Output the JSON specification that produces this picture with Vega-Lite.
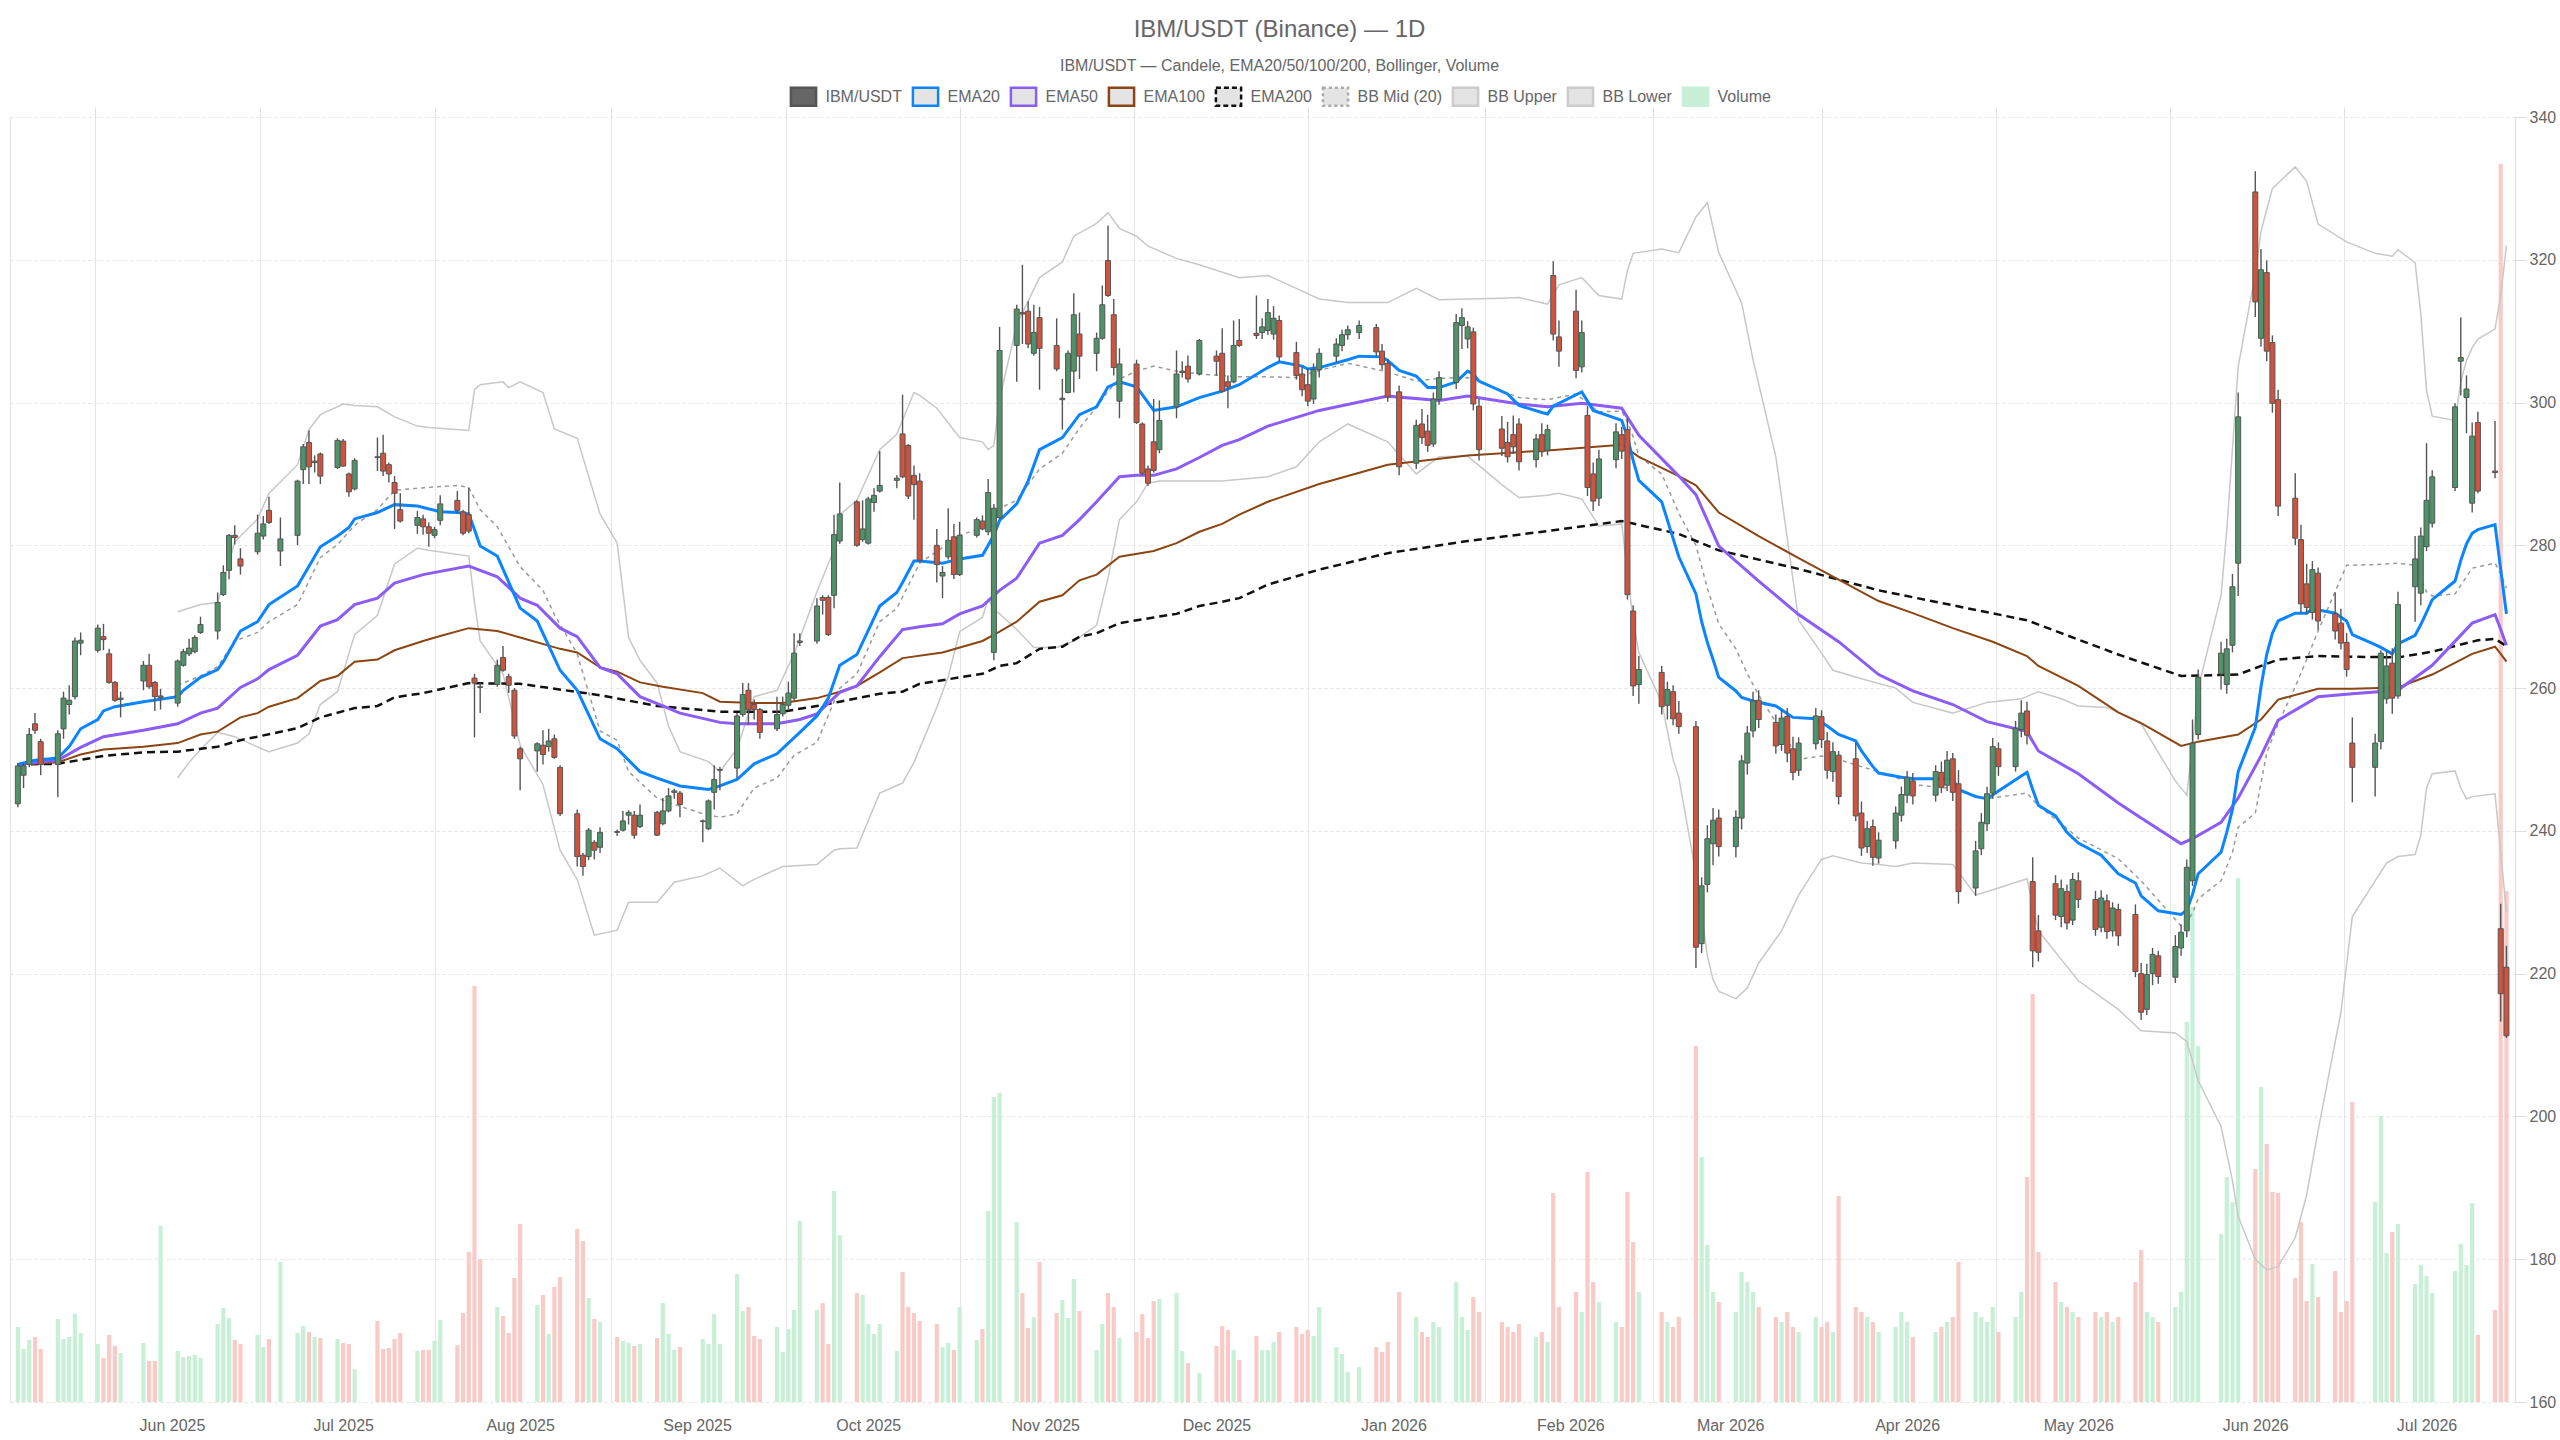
{
"$schema": "https://vega.github.io/schema/vega-lite/v6.json",
"width": 2505, "height": 1285,
"autosize": "none",
"padding": {"left": 10, "top": 117, "right": 45, "bottom": 38},
"background": "white",
"config": {"view": {"stroke": null}, "font": "Liberation Sans"},
"title": {"text": "IBM/USDT (Binance) — 1D", "subtitle": "IBM/USDT — Candele, EMA20/50/100/200, Bollinger, Volume", "fontSize": 24, "fontWeight": "normal", "color": "#666", "font": "Liberation Sans", "subtitleFont": "Liberation Sans", "subtitleFontSize": 16, "subtitleColor": "#666", "subtitlePadding": 16, "anchor": "middle", "frame": "group", "offset": 12, "dx": 17},
"datasets": {
"c": [
{"d":"2025-05-05","o":243.8,"h":249.5,"l":243.3,"c":249.1,"v":75},
{"d":"2025-05-06","o":247.8,"h":249.6,"l":246,"c":249.1,"v":53},
{"d":"2025-05-07","o":249.3,"h":254.4,"l":248.9,"c":253.5,"v":62},
{"d":"2025-05-08","o":255,"h":256.5,"l":253.6,"c":254.1,"v":65},
{"d":"2025-05-09","o":252.5,"h":252.9,"l":247.8,"c":249.3,"v":53},
{"d":"2025-05-12","o":249.3,"h":254.1,"l":244.7,"c":253.6,"v":83},
{"d":"2025-05-13","o":254.3,"h":259.5,"l":252.9,"c":258.6,"v":63},
{"d":"2025-05-14","o":257.7,"h":260.4,"l":256.3,"c":258.3,"v":65},
{"d":"2025-05-15","o":258.8,"h":267.1,"l":258.4,"c":266.6,"v":88},
{"d":"2025-05-16","o":266.3,"h":267.8,"l":264.6,"c":266.7,"v":69},
{"d":"2025-05-19","o":265.3,"h":268.9,"l":265,"c":268.4,"v":58},
{"d":"2025-05-20","o":267.2,"h":269,"l":265.3,"c":266.8,"v":44},
{"d":"2025-05-21","o":264.8,"h":265.5,"l":260.6,"c":260.8,"v":67},
{"d":"2025-05-22","o":260.8,"h":261,"l":258.1,"c":258.3,"v":56},
{"d":"2025-05-23","o":258.4,"h":259.5,"l":255.9,"c":258.6,"v":49},
{"d":"2025-05-27","o":261,"h":263.8,"l":259.7,"c":263.2,"v":59},
{"d":"2025-05-28","o":263.2,"h":264.8,"l":259.9,"c":260.2,"v":41},
{"d":"2025-05-29","o":260.8,"h":261,"l":256.8,"c":258.8,"v":41},
{"d":"2025-05-30","o":258.7,"h":259.9,"l":257,"c":258.9,"v":176},
{"d":"2025-06-02","o":257.9,"h":264,"l":257.4,"c":263.8,"v":51},
{"d":"2025-06-03","o":263.2,"h":265.5,"l":263,"c":265.1,"v":45},
{"d":"2025-06-04","o":264.8,"h":266.9,"l":264.5,"c":265.6,"v":46},
{"d":"2025-06-05","o":265.1,"h":267.4,"l":264.9,"c":267.1,"v":47},
{"d":"2025-06-06","o":267.8,"h":270,"l":267.6,"c":268.9,"v":44},
{"d":"2025-06-09","o":268,"h":273.4,"l":266.8,"c":272,"v":78},
{"d":"2025-06-10","o":273.1,"h":277.2,"l":272.9,"c":276.2,"v":94},
{"d":"2025-06-11","o":276.5,"h":281.6,"l":275.2,"c":281.4,"v":84},
{"d":"2025-06-12","o":281.4,"h":282.8,"l":280.1,"c":281.1,"v":62},
{"d":"2025-06-13","o":278.1,"h":279.6,"l":275.9,"c":277.1,"v":58},
{"d":"2025-06-16","o":279.1,"h":284.3,"l":278.7,"c":281.7,"v":67},
{"d":"2025-06-17","o":281.3,"h":284.1,"l":280.8,"c":283,"v":55},
{"d":"2025-06-18","o":284.9,"h":286.8,"l":283,"c":283.2,"v":63},
{"d":"2025-06-20","o":279.2,"h":283.9,"l":277.1,"c":280.9,"v":140},
{"d":"2025-06-23","o":281.4,"h":289.2,"l":280,"c":289,"v":69},
{"d":"2025-06-24","o":290.6,"h":294.2,"l":288.6,"c":293.8,"v":76},
{"d":"2025-06-25","o":294.4,"h":296.1,"l":288.6,"c":291,"v":70},
{"d":"2025-06-26","o":291.6,"h":292.6,"l":290.2,"c":291.8,"v":65},
{"d":"2025-06-27","o":292.8,"h":293,"l":288.6,"c":289.7,"v":64},
{"d":"2025-06-30","o":290.9,"h":295,"l":290.7,"c":294.7,"v":63},
{"d":"2025-07-01","o":294.6,"h":294.9,"l":291,"c":291.1,"v":59},
{"d":"2025-07-02","o":290,"h":290.2,"l":286.8,"c":287.5,"v":58},
{"d":"2025-07-03","o":287.9,"h":292.2,"l":287.7,"c":291.9,"v":33},
{"d":"2025-07-07","o":292.4,"h":295.1,"l":290.4,"c":292.3,"v":81},
{"d":"2025-07-08","o":292.9,"h":295.5,"l":289.7,"c":290.4,"v":53},
{"d":"2025-07-09","o":291.3,"h":291.6,"l":288.8,"c":290,"v":54},
{"d":"2025-07-10","o":288.8,"h":289.7,"l":282.3,"c":287.3,"v":63},
{"d":"2025-07-11","o":285,"h":287.3,"l":283.2,"c":283.4,"v":69},
{"d":"2025-07-14","o":282.8,"h":284.8,"l":281.6,"c":283.9,"v":51},
{"d":"2025-07-15","o":283.7,"h":284.3,"l":281.5,"c":282.6,"v":52},
{"d":"2025-07-16","o":282.6,"h":283.2,"l":279.8,"c":281.7,"v":52},
{"d":"2025-07-17","o":281.4,"h":282.6,"l":281,"c":282.2,"v":61},
{"d":"2025-07-18","o":283.5,"h":287,"l":282.8,"c":285.8,"v":82},
{"d":"2025-07-21","o":286.3,"h":287.6,"l":284.5,"c":284.9,"v":57},
{"d":"2025-07-22","o":284.7,"h":285,"l":281.4,"c":281.7,"v":89},
{"d":"2025-07-23","o":284.3,"h":288.1,"l":281.7,"c":282,"v":150},
{"d":"2025-07-24","o":261.4,"h":262,"l":253.1,"c":260.7,"v":416},
{"d":"2025-07-25","o":260.2,"h":260.7,"l":256.5,"c":260.1,"v":143},
{"d":"2025-07-28","o":260.5,"h":264,"l":260.2,"c":263.2,"v":95},
{"d":"2025-07-29","o":264.3,"h":265.9,"l":262.3,"c":262.5,"v":86},
{"d":"2025-07-30","o":261.6,"h":262,"l":259.3,"c":260.4,"v":69},
{"d":"2025-07-31","o":259.7,"h":260,"l":252.9,"c":253.3,"v":124},
{"d":"2025-08-01","o":251.5,"h":251.8,"l":245.7,"c":250.1,"v":178},
{"d":"2025-08-04","o":251.2,"h":252.4,"l":248.3,"c":252.2,"v":97},
{"d":"2025-08-05","o":252,"h":254.1,"l":249.3,"c":250.7,"v":107},
{"d":"2025-08-06","o":251.8,"h":254.3,"l":251.1,"c":252.6,"v":68},
{"d":"2025-08-07","o":252.9,"h":253.5,"l":250.1,"c":250.3,"v":115},
{"d":"2025-08-08","o":248.9,"h":249.2,"l":242.1,"c":242.4,"v":125},
{"d":"2025-08-11","o":242.4,"h":243,"l":235,"c":236.4,"v":173},
{"d":"2025-08-12","o":236.6,"h":236.9,"l":233.7,"c":235,"v":161},
{"d":"2025-08-13","o":236.4,"h":240.4,"l":235.9,"c":240.1,"v":104},
{"d":"2025-08-14","o":238.4,"h":238.7,"l":236,"c":237.3,"v":83},
{"d":"2025-08-15","o":237.7,"h":240.5,"l":236.9,"c":239.8,"v":80},
{"d":"2025-08-18","o":239.9,"h":240.2,"l":239.3,"c":239.8,"v":65},
{"d":"2025-08-19","o":240.1,"h":242.8,"l":239.9,"c":241.4,"v":61},
{"d":"2025-08-20","o":242.2,"h":242.9,"l":240.9,"c":242.6,"v":59},
{"d":"2025-08-21","o":242.2,"h":242.8,"l":238.9,"c":239.4,"v":56},
{"d":"2025-08-22","o":240.6,"h":243.7,"l":240.4,"c":242.2,"v":58},
{"d":"2025-08-25","o":242.6,"h":242.8,"l":239.3,"c":239.4,"v":64},
{"d":"2025-08-26","o":241,"h":244.6,"l":240.8,"c":242.8,"v":99},
{"d":"2025-08-27","o":242.8,"h":246,"l":242.6,"c":244.9,"v":68},
{"d":"2025-08-28","o":245.4,"h":245.9,"l":244.5,"c":245.6,"v":52},
{"d":"2025-08-29","o":245.3,"h":245.6,"l":241.9,"c":243.7,"v":55},
{"d":"2025-09-02","o":241.3,"h":241.6,"l":238.4,"c":241.4,"v":63},
{"d":"2025-09-03","o":240.3,"h":244.4,"l":240.1,"c":244.2,"v":58},
{"d":"2025-09-04","o":245.4,"h":249.2,"l":243,"c":247.2,"v":88},
{"d":"2025-09-05","o":248.5,"h":249,"l":245.7,"c":248.6,"v":58},
{"d":"2025-09-08","o":248.8,"h":256.5,"l":247.4,"c":256.1,"v":128},
{"d":"2025-09-09","o":256.3,"h":260.7,"l":256,"c":259.1,"v":91},
{"d":"2025-09-10","o":259.7,"h":260.7,"l":254.9,"c":257,"v":95},
{"d":"2025-09-11","o":257.7,"h":258.4,"l":255.6,"c":257,"v":66},
{"d":"2025-09-12","o":257,"h":257.2,"l":252.9,"c":253.8,"v":63},
{"d":"2025-09-15","o":254.3,"h":258.8,"l":254,"c":256.3,"v":75},
{"d":"2025-09-16","o":256.4,"h":258.8,"l":256,"c":257.7,"v":50},
{"d":"2025-09-17","o":257.6,"h":260.9,"l":257,"c":259.3,"v":73},
{"d":"2025-09-18","o":258.6,"h":267.7,"l":258.2,"c":264.9,"v":92},
{"d":"2025-09-19","o":266.4,"h":267.7,"l":265.9,"c":266.6,"v":181},
{"d":"2025-09-22","o":266.6,"h":272.6,"l":266.2,"c":271.5,"v":92},
{"d":"2025-09-23","o":272.7,"h":273,"l":270.3,"c":272.3,"v":99},
{"d":"2025-09-24","o":272.7,"h":273,"l":267.3,"c":267.5,"v":58},
{"d":"2025-09-25","o":273,"h":284.3,"l":271.2,"c":281.5,"v":211},
{"d":"2025-09-26","o":280.6,"h":288.8,"l":280.2,"c":284.4,"v":167},
{"d":"2025-09-29","o":286.1,"h":286.3,"l":279.8,"c":280,"v":109},
{"d":"2025-09-30","o":280.8,"h":286.3,"l":280.5,"c":282.3,"v":107},
{"d":"2025-10-01","o":280.3,"h":286.8,"l":280.1,"c":286.5,"v":78},
{"d":"2025-10-02","o":286,"h":288,"l":284.7,"c":287,"v":68},
{"d":"2025-10-03","o":287.6,"h":293.2,"l":287.4,"c":288.4,"v":78},
{"d":"2025-10-06","o":289.1,"h":289.8,"l":288,"c":289.4,"v":51},
{"d":"2025-10-07","o":295.6,"h":301.1,"l":289.4,"c":289.6,"v":130},
{"d":"2025-10-08","o":294,"h":294.2,"l":286.5,"c":286.9,"v":95},
{"d":"2025-10-09","o":289.8,"h":291.2,"l":283.6,"c":288.5,"v":89},
{"d":"2025-10-10","o":289,"h":290.1,"l":277.6,"c":277.9,"v":81},
{"d":"2025-10-13","o":280,"h":282.3,"l":274.8,"c":277.3,"v":78},
{"d":"2025-10-14","o":275.7,"h":277.1,"l":272.6,"c":276.2,"v":55},
{"d":"2025-10-15","o":278.4,"h":285.2,"l":278,"c":280.7,"v":59},
{"d":"2025-10-16","o":281.2,"h":283,"l":275.3,"c":275.9,"v":52},
{"d":"2025-10-17","o":275.9,"h":283.3,"l":275.7,"c":281.4,"v":95},
{"d":"2025-10-20","o":281.4,"h":283.9,"l":281.1,"c":283.6,"v":62},
{"d":"2025-10-21","o":283.4,"h":284.2,"l":282.1,"c":282.3,"v":73},
{"d":"2025-10-22","o":281.9,"h":289.3,"l":281.4,"c":287.4,"v":191},
{"d":"2025-10-23","o":265,"h":285.8,"l":263.9,"c":285.2,"v":305},
{"d":"2025-10-24","o":283.9,"h":310.6,"l":283.6,"c":307.3,"v":309},
{"d":"2025-10-27","o":308,"h":313.7,"l":302.9,"c":313.1,"v":180},
{"d":"2025-10-28","o":312.6,"h":319.3,"l":308.2,"c":312.4,"v":109},
{"d":"2025-10-29","o":312.8,"h":314.2,"l":307.6,"c":308.2,"v":74},
{"d":"2025-10-30","o":306.9,"h":313.7,"l":306.6,"c":309.8,"v":85},
{"d":"2025-10-31","o":311.9,"h":313.4,"l":301.8,"c":307.6,"v":140},
{"d":"2025-11-03","o":308,"h":311.8,"l":304.4,"c":304.7,"v":89},
{"d":"2025-11-04","o":300.4,"h":303.3,"l":296.2,"c":300.6,"v":102},
{"d":"2025-11-05","o":301.4,"h":307.3,"l":301.3,"c":306.9,"v":84},
{"d":"2025-11-06","o":304.4,"h":315.3,"l":301.4,"c":312.3,"v":123},
{"d":"2025-11-07","o":309.6,"h":312.6,"l":303.3,"c":306.5,"v":91},
{"d":"2025-11-10","o":306.9,"h":309.8,"l":304.4,"c":309,"v":52},
{"d":"2025-11-11","o":309,"h":316.4,"l":308.8,"c":313.7,"v":78},
{"d":"2025-11-12","o":319.9,"h":324.8,"l":314.8,"c":315,"v":109},
{"d":"2025-11-13","o":312.3,"h":314.5,"l":303.8,"c":304.9,"v":95},
{"d":"2025-11-14","o":300.2,"h":307.6,"l":297.8,"c":305.4,"v":64},
{"d":"2025-11-17","o":305.4,"h":306,"l":297,"c":297.2,"v":70},
{"d":"2025-11-18","o":297,"h":297.2,"l":289.8,"c":290.1,"v":88},
{"d":"2025-11-19","o":290.7,"h":291.2,"l":288.3,"c":288.7,"v":64},
{"d":"2025-11-20","o":294.5,"h":300.5,"l":290.2,"c":290.5,"v":101},
{"d":"2025-11-21","o":293.4,"h":300.3,"l":292.9,"c":297.5,"v":103},
{"d":"2025-11-24","o":299.4,"h":307.3,"l":297.8,"c":304,"v":109},
{"d":"2025-11-25","o":304.2,"h":305.8,"l":303.5,"c":304.4,"v":51},
{"d":"2025-11-26","o":305.1,"h":306.6,"l":302.8,"c":303.3,"v":39},
{"d":"2025-11-28","o":304,"h":308.9,"l":303.8,"c":308.7,"v":29},
{"d":"2025-12-01","o":306.5,"h":307.3,"l":303.8,"c":305.8,"v":56},
{"d":"2025-12-02","o":306.9,"h":310.4,"l":301.4,"c":301.6,"v":76},
{"d":"2025-12-03","o":302.9,"h":303.8,"l":299.2,"c":302.2,"v":72},
{"d":"2025-12-04","o":302.9,"h":311.5,"l":302.7,"c":308,"v":52},
{"d":"2025-12-05","o":308.7,"h":311.7,"l":307.8,"c":308,"v":42},
{"d":"2025-12-08","o":309.7,"h":315,"l":308.9,"c":309.4,"v":66},
{"d":"2025-12-09","o":309.8,"h":311.8,"l":308.9,"c":310.6,"v":52},
{"d":"2025-12-10","o":310.1,"h":314.5,"l":309.5,"c":312.6,"v":52},
{"d":"2025-12-11","o":309.6,"h":313.5,"l":308.8,"c":311.8,"v":60},
{"d":"2025-12-12","o":311.5,"h":312.2,"l":305.8,"c":306.4,"v":70},
{"d":"2025-12-15","o":307,"h":308.5,"l":303.2,"c":303.8,"v":75},
{"d":"2025-12-16","o":304,"h":305,"l":300.9,"c":301.8,"v":68},
{"d":"2025-12-17","o":302.5,"h":304.8,"l":299.5,"c":300.2,"v":72},
{"d":"2025-12-18","o":300.5,"h":305.5,"l":299.8,"c":304.6,"v":66},
{"d":"2025-12-19","o":304.6,"h":307.6,"l":303.5,"c":306.9,"v":95},
{"d":"2025-12-22","o":306.5,"h":309,"l":305.6,"c":308.2,"v":55},
{"d":"2025-12-23","o":308,"h":310.2,"l":307.2,"c":309.5,"v":48},
{"d":"2025-12-24","o":309.5,"h":310.8,"l":308.8,"c":310.2,"v":30},
{"d":"2025-12-26","o":309.8,"h":311.5,"l":308.9,"c":310.8,"v":35},
{"d":"2025-12-29","o":310.5,"h":311,"l":306.5,"c":307.1,"v":55},
{"d":"2025-12-30","o":307.2,"h":308.2,"l":304.6,"c":305.3,"v":50},
{"d":"2025-12-31","o":305.5,"h":306.1,"l":300.1,"c":300.8,"v":60},
{"d":"2026-01-02","o":301.5,"h":302.4,"l":289.8,"c":291,"v":110},
{"d":"2026-01-05","o":291.5,"h":297.6,"l":290.7,"c":296.8,"v":85},
{"d":"2026-01-06","o":297,"h":299.1,"l":294.2,"c":295.1,"v":70},
{"d":"2026-01-07","o":296,"h":298.3,"l":293.1,"c":294,"v":65},
{"d":"2026-01-08","o":294.2,"h":301.4,"l":293.8,"c":300.5,"v":80},
{"d":"2026-01-09","o":300.4,"h":304.4,"l":299.7,"c":303.5,"v":75},
{"d":"2026-01-12","o":302.8,"h":312.4,"l":301.9,"c":311.2,"v":120},
{"d":"2026-01-13","o":310.8,"h":313.2,"l":307.5,"c":311.9,"v":85},
{"d":"2026-01-14","o":308.9,"h":311.4,"l":307.6,"c":310.6,"v":72},
{"d":"2026-01-15","o":309.9,"h":310.5,"l":298.9,"c":299.8,"v":105},
{"d":"2026-01-16","o":299.5,"h":300.5,"l":291.9,"c":293.4,"v":90},
{"d":"2026-01-20","o":296.3,"h":298.1,"l":292.5,"c":293.6,"v":80},
{"d":"2026-01-21","o":294.4,"h":297.3,"l":291.6,"c":292.4,"v":75},
{"d":"2026-01-22","o":295.5,"h":298.2,"l":292.8,"c":293.8,"v":70},
{"d":"2026-01-23","o":297,"h":297.8,"l":290.5,"c":291.7,"v":78},
{"d":"2026-01-26","o":292,"h":295.6,"l":290.9,"c":294.9,"v":65},
{"d":"2026-01-27","o":295.5,"h":297.1,"l":292.4,"c":293.1,"v":70},
{"d":"2026-01-28","o":293.3,"h":296.9,"l":292.6,"c":296.2,"v":60},
{"d":"2026-01-29","o":317.8,"h":319.8,"l":308.7,"c":309.6,"v":209},
{"d":"2026-01-30","o":309.2,"h":311.5,"l":305,"c":307.2,"v":95},
{"d":"2026-02-02","o":312.8,"h":315.8,"l":303.4,"c":304.5,"v":110},
{"d":"2026-02-03","o":305,"h":311.5,"l":304.2,"c":309.8,"v":90},
{"d":"2026-02-04","o":298.2,"h":299.5,"l":286.9,"c":288.1,"v":230},
{"d":"2026-02-05","o":290,"h":291.6,"l":284.8,"c":286.2,"v":120},
{"d":"2026-02-06","o":286.6,"h":293.4,"l":285.5,"c":292.1,"v":100},
{"d":"2026-02-09","o":292,"h":297.1,"l":290.8,"c":295.9,"v":80},
{"d":"2026-02-10","o":295.5,"h":296.6,"l":292.1,"c":293.2,"v":75},
{"d":"2026-02-11","o":296.2,"h":297.8,"l":272.4,"c":273.1,"v":210},
{"d":"2026-02-12","o":270.8,"h":271.6,"l":258.9,"c":260.3,"v":160},
{"d":"2026-02-13","o":260.5,"h":264.5,"l":257.8,"c":262.6,"v":110},
{"d":"2026-02-17","o":262.2,"h":263.1,"l":256.3,"c":257.4,"v":90},
{"d":"2026-02-18","o":257.6,"h":260.9,"l":255.6,"c":259.8,"v":80},
{"d":"2026-02-19","o":259.5,"h":260.4,"l":254.8,"c":255.7,"v":75},
{"d":"2026-02-20","o":256.5,"h":258.2,"l":253.6,"c":254.6,"v":85},
{"d":"2026-02-23","o":254.6,"h":255.4,"l":220.8,"c":223.7,"v":356},
{"d":"2026-02-24","o":224.2,"h":233.5,"l":222.9,"c":232.3,"v":245},
{"d":"2026-02-25","o":232.5,"h":240.8,"l":231.4,"c":238.9,"v":157},
{"d":"2026-02-26","o":238.2,"h":243.2,"l":235.2,"c":241.5,"v":110},
{"d":"2026-02-27","o":241.8,"h":243,"l":236.4,"c":237.8,"v":100},
{"d":"2026-03-02","o":237.8,"h":242.9,"l":236.3,"c":241.9,"v":90},
{"d":"2026-03-03","o":241.8,"h":250.6,"l":240.2,"c":249.8,"v":130},
{"d":"2026-03-04","o":249.5,"h":254.7,"l":247.9,"c":253.7,"v":120},
{"d":"2026-03-05","o":254,"h":259.5,"l":253.1,"c":258.2,"v":110},
{"d":"2026-03-06","o":258.3,"h":259.7,"l":254.4,"c":255.6,"v":95},
{"d":"2026-03-09","o":255.2,"h":256.3,"l":250.8,"c":251.9,"v":85},
{"d":"2026-03-10","o":252.1,"h":256.9,"l":251.2,"c":255.8,"v":80},
{"d":"2026-03-11","o":256,"h":257.2,"l":249.6,"c":250.9,"v":90},
{"d":"2026-03-12","o":251.5,"h":253.2,"l":247.1,"c":248.2,"v":75},
{"d":"2026-03-13","o":248.5,"h":253.1,"l":247.7,"c":252.3,"v":70},
{"d":"2026-03-16","o":252.2,"h":257.2,"l":251.4,"c":256.1,"v":85},
{"d":"2026-03-17","o":256,"h":256.9,"l":251.6,"c":252.8,"v":75},
{"d":"2026-03-18","o":252.6,"h":253.8,"l":247.3,"c":248.5,"v":80},
{"d":"2026-03-19","o":248.3,"h":252.4,"l":246.9,"c":251.1,"v":70},
{"d":"2026-03-20","o":250.6,"h":251.2,"l":243.7,"c":244.8,"v":206},
{"d":"2026-03-23","o":250.1,"h":252.3,"l":241.4,"c":242.1,"v":95},
{"d":"2026-03-24","o":242.5,"h":244.1,"l":236.5,"c":237.6,"v":90},
{"d":"2026-03-25","o":237.8,"h":241.4,"l":236.9,"c":240.3,"v":85},
{"d":"2026-03-26","o":240.6,"h":241.6,"l":235.1,"c":236.3,"v":80},
{"d":"2026-03-27","o":236.2,"h":239.8,"l":235.4,"c":238.7,"v":70},
{"d":"2026-03-30","o":238.6,"h":243.4,"l":237.5,"c":242.5,"v":75},
{"d":"2026-03-31","o":242.2,"h":246.2,"l":241.3,"c":245.1,"v":90},
{"d":"2026-04-01","o":245,"h":248.4,"l":243.9,"c":247.5,"v":80},
{"d":"2026-04-02","o":247,"h":248.1,"l":243.7,"c":244.9,"v":65},
{"d":"2026-04-06","o":245,"h":249.2,"l":244.1,"c":248.3,"v":70},
{"d":"2026-04-07","o":248.2,"h":249.7,"l":245.3,"c":246.1,"v":75},
{"d":"2026-04-08","o":246.4,"h":251.2,"l":245.6,"c":249.9,"v":80},
{"d":"2026-04-09","o":250.1,"h":250.9,"l":244.2,"c":245.4,"v":85},
{"d":"2026-04-10","o":246.6,"h":248.5,"l":229.8,"c":231.5,"v":140},
{"d":"2026-04-13","o":232,"h":238.6,"l":230.9,"c":237.2,"v":90},
{"d":"2026-04-14","o":237.5,"h":242.5,"l":236.6,"c":241.2,"v":85},
{"d":"2026-04-15","o":241,"h":246.2,"l":240,"c":245.2,"v":80},
{"d":"2026-04-16","o":245.3,"h":253,"l":244.5,"c":251.8,"v":95},
{"d":"2026-04-17","o":251.5,"h":252.4,"l":247.7,"c":249,"v":70},
{"d":"2026-04-20","o":249,"h":255.4,"l":248.3,"c":254.4,"v":85},
{"d":"2026-04-21","o":254.2,"h":258.3,"l":253.1,"c":256.5,"v":110},
{"d":"2026-04-22","o":256.8,"h":258.1,"l":252.1,"c":253.4,"v":225},
{"d":"2026-04-23","o":232.9,"h":236.3,"l":220.9,"c":223.2,"v":408},
{"d":"2026-04-24","o":226,"h":228.2,"l":221.7,"c":223,"v":150},
{"d":"2026-04-27","o":232.6,"h":233.8,"l":227.5,"c":228.2,"v":120},
{"d":"2026-04-28","o":228,"h":233.2,"l":226.5,"c":231.9,"v":100},
{"d":"2026-04-29","o":231.5,"h":232.5,"l":226.2,"c":227.1,"v":95},
{"d":"2026-04-30","o":227.5,"h":234.1,"l":226.8,"c":233.2,"v":90},
{"d":"2026-05-01","o":233,"h":234.2,"l":229.2,"c":230.4,"v":85},
{"d":"2026-05-04","o":230.4,"h":231.6,"l":225.3,"c":226.2,"v":90},
{"d":"2026-05-05","o":226.5,"h":231.7,"l":225.8,"c":230.6,"v":85},
{"d":"2026-05-06","o":230.2,"h":231.1,"l":224.9,"c":225.9,"v":90},
{"d":"2026-05-07","o":226,"h":230,"l":225.2,"c":229.2,"v":80},
{"d":"2026-05-08","o":229,"h":229.8,"l":223.9,"c":225.3,"v":85},
{"d":"2026-05-11","o":228.3,"h":229.7,"l":219.5,"c":220.3,"v":120},
{"d":"2026-05-12","o":220,"h":221.5,"l":213.5,"c":214.6,"v":152},
{"d":"2026-05-13","o":215,"h":221.4,"l":214.2,"c":219.9,"v":90},
{"d":"2026-05-14","o":220,"h":223.6,"l":218.4,"c":222.7,"v":85},
{"d":"2026-05-15","o":222.5,"h":223.2,"l":218.6,"c":219.6,"v":80},
{"d":"2026-05-18","o":219.5,"h":225.4,"l":218.7,"c":223.8,"v":95},
{"d":"2026-05-19","o":223.6,"h":226.9,"l":222.5,"c":225.8,"v":110},
{"d":"2026-05-20","o":226,"h":236,"l":225.1,"c":234.9,"v":380},
{"d":"2026-05-21","o":233,"h":255.6,"l":232.3,"c":252.3,"v":495},
{"d":"2026-05-22","o":253.5,"h":262.6,"l":252.8,"c":261.5,"v":356},
{"d":"2026-05-26","o":262,"h":266.5,"l":259.8,"c":264.9,"v":168},
{"d":"2026-05-27","o":260.5,"h":266.9,"l":259.2,"c":265.5,"v":225},
{"d":"2026-05-28","o":266,"h":276,"l":265,"c":274.2,"v":200},
{"d":"2026-05-29","o":277.5,"h":301.4,"l":272.9,"c":298,"v":524},
{"d":"2026-06-01","o":329.5,"h":332.4,"l":312,"c":314.1,"v":233},
{"d":"2026-06-02","o":309,"h":321.5,"l":307.8,"c":318.6,"v":315},
{"d":"2026-06-03","o":318.2,"h":319.9,"l":305.8,"c":307.2,"v":258},
{"d":"2026-06-04","o":308.4,"h":309.4,"l":298.6,"c":299.9,"v":210},
{"d":"2026-06-05","o":300.4,"h":301.8,"l":284.1,"c":285.5,"v":209},
{"d":"2026-06-08","o":286.6,"h":290.1,"l":280,"c":281,"v":124},
{"d":"2026-06-09","o":280.8,"h":282.9,"l":270.6,"c":271.8,"v":180},
{"d":"2026-06-10","o":274.6,"h":277.4,"l":270.4,"c":271.3,"v":101},
{"d":"2026-06-11","o":270.6,"h":277.8,"l":269.6,"c":276.6,"v":138},
{"d":"2026-06-12","o":276.1,"h":276.9,"l":268.2,"c":269.4,"v":105},
{"d":"2026-06-15","o":270.4,"h":273.4,"l":266.8,"c":268,"v":131},
{"d":"2026-06-16","o":269.1,"h":271.1,"l":265.4,"c":266.3,"v":90},
{"d":"2026-06-17","o":266.4,"h":267.7,"l":261.6,"c":262.6,"v":101},
{"d":"2026-06-18","o":252.3,"h":255.9,"l":244,"c":248.9,"v":300},
{"d":"2026-06-22","o":248.9,"h":253.6,"l":244.8,"c":252.3,"v":200},
{"d":"2026-06-23","o":252.5,"h":265.3,"l":251.4,"c":264.9,"v":286},
{"d":"2026-06-24","o":258.5,"h":265.2,"l":257.8,"c":263.1,"v":149},
{"d":"2026-06-25","o":263.5,"h":265.6,"l":256.4,"c":258.6,"v":170},
{"d":"2026-06-26","o":258.9,"h":273.5,"l":258.5,"c":271.7,"v":178},
{"d":"2026-06-29","o":274.2,"h":281.3,"l":269.3,"c":278.1,"v":118},
{"d":"2026-06-30","o":273.3,"h":282.5,"l":271.6,"c":281.3,"v":137},
{"d":"2026-07-01","o":279.8,"h":294.3,"l":279.2,"c":286.3,"v":126},
{"d":"2026-07-02","o":283.1,"h":290.5,"l":282.5,"c":289.6,"v":109},
{"d":"2026-07-06","o":288.1,"h":299.9,"l":287.6,"c":299.4,"v":131},
{"d":"2026-07-07","o":305.8,"h":311.9,"l":301,"c":306.3,"v":158},
{"d":"2026-07-08","o":300.7,"h":303.8,"l":295.7,"c":301.9,"v":137},
{"d":"2026-07-09","o":285.9,"h":297.2,"l":284.6,"c":295.3,"v":199},
{"d":"2026-07-10","o":297.2,"h":298.7,"l":287.3,"c":287.6,"v":67},
{"d":"2026-07-13","o":290.4,"h":297.4,"l":289.4,"c":290.2,"v":92},
{"d":"2026-07-14","o":226.3,"h":229.8,"l":213.3,"c":217.2,"v":1238},
{"d":"2026-07-15","o":220.9,"h":223.9,"l":211,"c":211.3,"v":511}
],
"ln": [
{"d":"2025-05-05","k":"e20","v":249.3},{"d":"2025-05-08","k":"e20","v":249.9},{"d":"2025-05-12","k":"e20","v":250.2},{"d":"2025-05-14","k":"e20","v":251.8},{"d":"2025-05-16","k":"e20","v":254.3},{"d":"2025-05-19","k":"e20","v":255.6},{"d":"2025-05-20","k":"e20","v":256.8},{"d":"2025-05-22","k":"e20","v":257.4},{"d":"2025-05-27","k":"e20","v":258.1},{"d":"2025-06-02","k":"e20","v":258.8},{"d":"2025-06-03","k":"e20","v":259.7},{"d":"2025-06-06","k":"e20","v":261.5},{"d":"2025-06-09","k":"e20","v":262.6},{"d":"2025-06-10","k":"e20","v":263.7},{"d":"2025-06-13","k":"e20","v":268},{"d":"2025-06-16","k":"e20","v":269.3},{"d":"2025-06-18","k":"e20","v":271.7},{"d":"2025-06-23","k":"e20","v":274.3},{"d":"2025-06-27","k":"e20","v":279.8},{"d":"2025-06-30","k":"e20","v":281.3},{"d":"2025-07-02","k":"e20","v":282.5},{"d":"2025-07-03","k":"e20","v":283.7},{"d":"2025-07-07","k":"e20","v":284.6},{"d":"2025-07-10","k":"e20","v":285.7},{"d":"2025-07-14","k":"e20","v":285.5},{"d":"2025-07-18","k":"e20","v":284.7},{"d":"2025-07-21","k":"e20","v":284.6},{"d":"2025-07-23","k":"e20","v":284.4},{"d":"2025-07-24","k":"e20","v":282.2},{"d":"2025-07-25","k":"e20","v":279.9},{"d":"2025-07-28","k":"e20","v":278.5},{"d":"2025-08-01","k":"e20","v":271.2},{"d":"2025-08-04","k":"e20","v":269.4},{"d":"2025-08-08","k":"e20","v":262.5},{"d":"2025-08-11","k":"e20","v":259.7},{"d":"2025-08-15","k":"e20","v":252.9},{"d":"2025-08-18","k":"e20","v":251.5},{"d":"2025-08-22","k":"e20","v":248.3},{"d":"2025-08-25","k":"e20","v":247.4},{"d":"2025-08-29","k":"e20","v":246.3},{"d":"2025-09-03","k":"e20","v":245.8},{"d":"2025-09-05","k":"e20","v":246.3},{"d":"2025-09-08","k":"e20","v":247.2},{"d":"2025-09-11","k":"e20","v":249.4},{"d":"2025-09-15","k":"e20","v":250.8},{"d":"2025-09-19","k":"e20","v":253.8},{"d":"2025-09-22","k":"e20","v":256.1},{"d":"2025-09-24","k":"e20","v":258.6},{"d":"2025-09-26","k":"e20","v":263.2},{"d":"2025-09-29","k":"e20","v":264.7},{"d":"2025-10-03","k":"e20","v":271.5},{"d":"2025-10-06","k":"e20","v":273.4},{"d":"2025-10-07","k":"e20","v":274.8},{"d":"2025-10-09","k":"e20","v":277.8},{"d":"2025-10-10","k":"e20","v":277.8},{"d":"2025-10-14","k":"e20","v":277.5},{"d":"2025-10-17","k":"e20","v":278.1},{"d":"2025-10-21","k":"e20","v":278.6},{"d":"2025-10-23","k":"e20","v":281.4},{"d":"2025-10-24","k":"e20","v":283.5},{"d":"2025-10-27","k":"e20","v":285.8},{"d":"2025-10-29","k":"e20","v":289},{"d":"2025-10-31","k":"e20","v":293.4},{"d":"2025-11-04","k":"e20","v":295.1},{"d":"2025-11-07","k":"e20","v":298.3},{"d":"2025-11-10","k":"e20","v":299.4},{"d":"2025-11-12","k":"e20","v":302.2},{"d":"2025-11-14","k":"e20","v":302.9},{"d":"2025-11-17","k":"e20","v":302.2},{"d":"2025-11-20","k":"e20","v":298.9},{"d":"2025-11-24","k":"e20","v":299.4},{"d":"2025-11-28","k":"e20","v":300.7},{"d":"2025-12-02","k":"e20","v":301.6},{"d":"2025-12-05","k":"e20","v":302.5},{"d":"2025-12-10","k":"e20","v":304.9},{"d":"2025-12-12","k":"e20","v":305.7},{"d":"2025-12-16","k":"e20","v":305.1},{"d":"2025-12-17","k":"e20","v":304.7},{"d":"2025-12-19","k":"e20","v":304.9},{"d":"2025-12-24","k":"e20","v":306},{"d":"2025-12-26","k":"e20","v":306.5},{"d":"2025-12-30","k":"e20","v":306.4},{"d":"2025-12-31","k":"e20","v":305.9},{"d":"2026-01-02","k":"e20","v":304.5},{"d":"2026-01-05","k":"e20","v":303.7},{"d":"2026-01-07","k":"e20","v":302.1},{"d":"2026-01-09","k":"e20","v":302.1},{"d":"2026-01-12","k":"e20","v":302.9},{"d":"2026-01-14","k":"e20","v":304.4},{"d":"2026-01-15","k":"e20","v":304},{"d":"2026-01-16","k":"e20","v":303},{"d":"2026-01-21","k":"e20","v":301.2},{"d":"2026-01-23","k":"e20","v":299.6},{"d":"2026-01-27","k":"e20","v":298.6},{"d":"2026-01-28","k":"e20","v":298.4},{"d":"2026-01-29","k":"e20","v":299.5},{"d":"2026-02-03","k":"e20","v":301.5},{"d":"2026-02-04","k":"e20","v":300.2},{"d":"2026-02-05","k":"e20","v":298.9},{"d":"2026-02-10","k":"e20","v":297.5},{"d":"2026-02-11","k":"e20","v":295.2},{"d":"2026-02-12","k":"e20","v":291.9},{"d":"2026-02-13","k":"e20","v":289.1},{"d":"2026-02-17","k":"e20","v":286.1},{"d":"2026-02-20","k":"e20","v":278.4},{"d":"2026-02-23","k":"e20","v":273.2},{"d":"2026-02-24","k":"e20","v":269.3},{"d":"2026-02-25","k":"e20","v":266.4},{"d":"2026-02-26","k":"e20","v":264},{"d":"2026-02-27","k":"e20","v":261.5},{"d":"2026-03-02","k":"e20","v":259.6},{"d":"2026-03-03","k":"e20","v":258.7},{"d":"2026-03-05","k":"e20","v":258.2},{"d":"2026-03-09","k":"e20","v":257.5},{"d":"2026-03-12","k":"e20","v":255.9},{"d":"2026-03-16","k":"e20","v":255.7},{"d":"2026-03-18","k":"e20","v":254.7},{"d":"2026-03-20","k":"e20","v":253.5},{"d":"2026-03-23","k":"e20","v":252.6},{"d":"2026-03-24","k":"e20","v":251.2},{"d":"2026-03-26","k":"e20","v":249},{"d":"2026-03-27","k":"e20","v":248.1},{"d":"2026-03-31","k":"e20","v":247.5},{"d":"2026-04-02","k":"e20","v":247.3},{"d":"2026-04-09","k":"e20","v":247.3},{"d":"2026-04-10","k":"e20","v":245.8},{"d":"2026-04-13","k":"e20","v":244.8},{"d":"2026-04-15","k":"e20","v":244.5},{"d":"2026-04-17","k":"e20","v":245.6},{"d":"2026-04-21","k":"e20","v":247.7},{"d":"2026-04-22","k":"e20","v":248.2},{"d":"2026-04-23","k":"e20","v":245.8},{"d":"2026-04-24","k":"e20","v":243.6},{"d":"2026-04-27","k":"e20","v":242.1},{"d":"2026-04-29","k":"e20","v":239.8},{"d":"2026-05-01","k":"e20","v":238.3},{"d":"2026-05-05","k":"e20","v":236.6},{"d":"2026-05-08","k":"e20","v":234},{"d":"2026-05-11","k":"e20","v":232.7},{"d":"2026-05-12","k":"e20","v":230.9},{"d":"2026-05-14","k":"e20","v":229.5},{"d":"2026-05-15","k":"e20","v":228.8},{"d":"2026-05-19","k":"e20","v":228.3},{"d":"2026-05-20","k":"e20","v":228.9},{"d":"2026-05-21","k":"e20","v":231.1},{"d":"2026-05-22","k":"e20","v":234},{"d":"2026-05-26","k":"e20","v":237},{"d":"2026-05-27","k":"e20","v":239.8},{"d":"2026-05-28","k":"e20","v":243},{"d":"2026-05-29","k":"e20","v":248.3},{"d":"2026-06-01","k":"e20","v":254.5},{"d":"2026-06-02","k":"e20","v":260.2},{"d":"2026-06-03","k":"e20","v":264.7},{"d":"2026-06-04","k":"e20","v":267.7},{"d":"2026-06-05","k":"e20","v":269.4},{"d":"2026-06-08","k":"e20","v":270.5},{"d":"2026-06-10","k":"e20","v":270.5},{"d":"2026-06-11","k":"e20","v":271.1},{"d":"2026-06-15","k":"e20","v":270.5},{"d":"2026-06-17","k":"e20","v":269.4},{"d":"2026-06-18","k":"e20","v":267.5},{"d":"2026-06-22","k":"e20","v":266.1},{"d":"2026-06-23","k":"e20","v":265.7},{"d":"2026-06-25","k":"e20","v":264.8},{"d":"2026-06-26","k":"e20","v":266.2},{"d":"2026-06-29","k":"e20","v":267.4},{"d":"2026-06-30","k":"e20","v":268.9},{"d":"2026-07-01","k":"e20","v":270.6},{"d":"2026-07-02","k":"e20","v":272.4},{"d":"2026-07-06","k":"e20","v":275},{"d":"2026-07-07","k":"e20","v":277.9},{"d":"2026-07-08","k":"e20","v":280.2},{"d":"2026-07-09","k":"e20","v":281.7},{"d":"2026-07-10","k":"e20","v":282.2},{"d":"2026-07-13","k":"e20","v":282.9},{"d":"2026-07-14","k":"e20","v":276.6},{"d":"2026-07-15","k":"e20","v":270.4},
{"d":"2025-05-05","k":"e50","v":249.3},{"d":"2025-05-12","k":"e50","v":249.9},{"d":"2025-05-16","k":"e50","v":251.7},{"d":"2025-05-20","k":"e50","v":253.2},{"d":"2025-05-27","k":"e50","v":254.1},{"d":"2025-06-02","k":"e50","v":255},{"d":"2025-06-06","k":"e50","v":256.5},{"d":"2025-06-09","k":"e50","v":257.2},{"d":"2025-06-13","k":"e50","v":260.1},{"d":"2025-06-16","k":"e50","v":261.3},{"d":"2025-06-18","k":"e50","v":262.6},{"d":"2025-06-23","k":"e50","v":264.6},{"d":"2025-06-27","k":"e50","v":268.7},{"d":"2025-06-30","k":"e50","v":269.6},{"d":"2025-07-03","k":"e50","v":271.7},{"d":"2025-07-07","k":"e50","v":272.6},{"d":"2025-07-10","k":"e50","v":274.7},{"d":"2025-07-15","k":"e50","v":275.9},{"d":"2025-07-23","k":"e50","v":277.1},{"d":"2025-07-28","k":"e50","v":275.6},{"d":"2025-08-01","k":"e50","v":272.6},{"d":"2025-08-04","k":"e50","v":271.6},{"d":"2025-08-08","k":"e50","v":268.4},{"d":"2025-08-11","k":"e50","v":267.2},{"d":"2025-08-15","k":"e50","v":262.9},{"d":"2025-08-18","k":"e50","v":262},{"d":"2025-08-22","k":"e50","v":258.8},{"d":"2025-08-26","k":"e50","v":257.5},{"d":"2025-08-29","k":"e50","v":256.5},{"d":"2025-09-05","k":"e50","v":255.2},{"d":"2025-09-08","k":"e50","v":255},{"d":"2025-09-15","k":"e50","v":255},{"d":"2025-09-19","k":"e50","v":255.6},{"d":"2025-09-22","k":"e50","v":256.4},{"d":"2025-09-26","k":"e50","v":259.4},{"d":"2025-09-29","k":"e50","v":260.3},{"d":"2025-10-03","k":"e50","v":264.4},{"d":"2025-10-07","k":"e50","v":268.2},{"d":"2025-10-10","k":"e50","v":268.6},{"d":"2025-10-14","k":"e50","v":269},{"d":"2025-10-17","k":"e50","v":270.4},{"d":"2025-10-21","k":"e50","v":271.5},{"d":"2025-10-24","k":"e50","v":273.7},{"d":"2025-10-27","k":"e50","v":275.4},{"d":"2025-10-31","k":"e50","v":280.3},{"d":"2025-11-04","k":"e50","v":281.4},{"d":"2025-11-07","k":"e50","v":283.6},{"d":"2025-11-10","k":"e50","v":286.1},{"d":"2025-11-14","k":"e50","v":289.6},{"d":"2025-11-17","k":"e50","v":289.8},{"d":"2025-11-20","k":"e50","v":289.8},{"d":"2025-11-24","k":"e50","v":290.7},{"d":"2025-11-28","k":"e50","v":292.3},{"d":"2025-12-02","k":"e50","v":294},{"d":"2025-12-05","k":"e50","v":294.8},{"d":"2025-12-10","k":"e50","v":296.7},{"d":"2025-12-19","k":"e50","v":298.9},{"d":"2025-12-31","k":"e50","v":300.9},{"d":"2026-01-09","k":"e50","v":300.3},{"d":"2026-01-14","k":"e50","v":300.9},{"d":"2026-01-23","k":"e50","v":299.8},{"d":"2026-01-28","k":"e50","v":299.4},{"d":"2026-02-03","k":"e50","v":299.9},{"d":"2026-02-10","k":"e50","v":299.2},{"d":"2026-02-13","k":"e50","v":295.4},{"d":"2026-02-20","k":"e50","v":289.7},{"d":"2026-02-23","k":"e50","v":287.1},{"d":"2026-02-27","k":"e50","v":279.9},{"d":"2026-03-06","k":"e50","v":275},{"d":"2026-03-13","k":"e50","v":270.3},{"d":"2026-03-20","k":"e50","v":266.5},{"d":"2026-03-27","k":"e50","v":261.9},{"d":"2026-04-02","k":"e50","v":259.6},{"d":"2026-04-09","k":"e50","v":257.7},{"d":"2026-04-15","k":"e50","v":255.3},{"d":"2026-04-22","k":"e50","v":253.9},{"d":"2026-04-24","k":"e50","v":251.2},{"d":"2026-05-01","k":"e50","v":248},{"d":"2026-05-08","k":"e50","v":243.9},{"d":"2026-05-12","k":"e50","v":241.8},{"d":"2026-05-19","k":"e50","v":238.2},{"d":"2026-05-21","k":"e50","v":238.9},{"d":"2026-05-26","k":"e50","v":241.2},{"d":"2026-05-29","k":"e50","v":244.6},{"d":"2026-06-02","k":"e50","v":250.5},{"d":"2026-06-05","k":"e50","v":255.5},{"d":"2026-06-12","k":"e50","v":258.8},{"d":"2026-06-18","k":"e50","v":259.2},{"d":"2026-06-26","k":"e50","v":259.7},{"d":"2026-07-02","k":"e50","v":263.2},{"d":"2026-07-09","k":"e50","v":269.1},{"d":"2026-07-13","k":"e50","v":270.3},{"d":"2026-07-14","k":"e50","v":268.2},{"d":"2026-07-15","k":"e50","v":266},
{"d":"2025-05-05","k":"e100","v":249.3},{"d":"2025-05-12","k":"e100","v":249.6},{"d":"2025-05-16","k":"e100","v":250.7},{"d":"2025-05-20","k":"e100","v":251.4},{"d":"2025-05-27","k":"e100","v":251.8},{"d":"2025-06-02","k":"e100","v":252.3},{"d":"2025-06-06","k":"e100","v":253.5},{"d":"2025-06-09","k":"e100","v":253.9},{"d":"2025-06-13","k":"e100","v":255.9},{"d":"2025-06-16","k":"e100","v":256.5},{"d":"2025-06-18","k":"e100","v":257.4},{"d":"2025-06-23","k":"e100","v":258.6},{"d":"2025-06-27","k":"e100","v":261},{"d":"2025-06-30","k":"e100","v":261.7},{"d":"2025-07-03","k":"e100","v":263.7},{"d":"2025-07-07","k":"e100","v":264},{"d":"2025-07-10","k":"e100","v":265.3},{"d":"2025-07-15","k":"e100","v":266.6},{"d":"2025-07-18","k":"e100","v":267.3},{"d":"2025-07-23","k":"e100","v":268.4},{"d":"2025-07-28","k":"e100","v":268},{"d":"2025-08-01","k":"e100","v":267.1},{"d":"2025-08-08","k":"e100","v":265.5},{"d":"2025-08-11","k":"e100","v":265},{"d":"2025-08-15","k":"e100","v":262.9},{"d":"2025-08-18","k":"e100","v":262.3},{"d":"2025-08-22","k":"e100","v":260.8},{"d":"2025-08-26","k":"e100","v":260.2},{"d":"2025-09-02","k":"e100","v":259.3},{"d":"2025-09-05","k":"e100","v":258.1},{"d":"2025-09-11","k":"e100","v":257.9},{"d":"2025-09-16","k":"e100","v":257.9},{"d":"2025-09-22","k":"e100","v":258.6},{"d":"2025-09-26","k":"e100","v":259.5},{"d":"2025-09-29","k":"e100","v":260.3},{"d":"2025-10-03","k":"e100","v":262.2},{"d":"2025-10-07","k":"e100","v":264.2},{"d":"2025-10-14","k":"e100","v":265},{"d":"2025-10-21","k":"e100","v":266.6},{"d":"2025-10-24","k":"e100","v":267.9},{"d":"2025-10-27","k":"e100","v":269.3},{"d":"2025-10-31","k":"e100","v":272.1},{"d":"2025-11-04","k":"e100","v":273},{"d":"2025-11-07","k":"e100","v":275.1},{"d":"2025-11-10","k":"e100","v":275.9},{"d":"2025-11-14","k":"e100","v":278.4},{"d":"2025-11-20","k":"e100","v":279.2},{"d":"2025-11-24","k":"e100","v":280.3},{"d":"2025-11-28","k":"e100","v":281.9},{"d":"2025-12-02","k":"e100","v":283},{"d":"2025-12-05","k":"e100","v":284.3},{"d":"2025-12-10","k":"e100","v":286.1},{"d":"2025-12-19","k":"e100","v":288.6},{"d":"2025-12-31","k":"e100","v":291.3},{"d":"2026-01-14","k":"e100","v":292.6},{"d":"2026-01-28","k":"e100","v":293.3},{"d":"2026-02-10","k":"e100","v":294.1},{"d":"2026-02-13","k":"e100","v":292.4},{"d":"2026-02-20","k":"e100","v":289.7},{"d":"2026-02-23","k":"e100","v":288.4},{"d":"2026-02-27","k":"e100","v":284.6},{"d":"2026-03-06","k":"e100","v":281.3},{"d":"2026-03-13","k":"e100","v":278.2},{"d":"2026-03-20","k":"e100","v":275.2},{"d":"2026-03-27","k":"e100","v":272.2},{"d":"2026-04-02","k":"e100","v":270.5},{"d":"2026-04-09","k":"e100","v":268.4},{"d":"2026-04-16","k":"e100","v":266.5},{"d":"2026-04-22","k":"e100","v":264.5},{"d":"2026-04-24","k":"e100","v":263.1},{"d":"2026-05-01","k":"e100","v":260.3},{"d":"2026-05-08","k":"e100","v":256.6},{"d":"2026-05-12","k":"e100","v":255.1},{"d":"2026-05-19","k":"e100","v":251.9},{"d":"2026-05-22","k":"e100","v":252.5},{"d":"2026-05-29","k":"e100","v":253.5},{"d":"2026-06-02","k":"e100","v":255.6},{"d":"2026-06-05","k":"e100","v":258.4},{"d":"2026-06-12","k":"e100","v":259.9},{"d":"2026-06-18","k":"e100","v":259.9},{"d":"2026-06-26","k":"e100","v":260.1},{"d":"2026-07-02","k":"e100","v":261.9},{"d":"2026-07-09","k":"e100","v":264.8},{"d":"2026-07-13","k":"e100","v":265.8},{"d":"2026-07-14","k":"e100","v":264.8},{"d":"2026-07-15","k":"e100","v":263.7},
{"d":"2025-05-05","k":"e200","v":249.3},{"d":"2025-05-12","k":"e200","v":249.4},{"d":"2025-05-20","k":"e200","v":250.5},{"d":"2025-05-27","k":"e200","v":251},{"d":"2025-06-02","k":"e200","v":251.1},{"d":"2025-06-09","k":"e200","v":251.8},{"d":"2025-06-13","k":"e200","v":252.7},{"d":"2025-06-16","k":"e200","v":253.2},{"d":"2025-06-23","k":"e200","v":254.4},{"d":"2025-06-27","k":"e200","v":255.9},{"d":"2025-07-03","k":"e200","v":257.2},{"d":"2025-07-07","k":"e200","v":257.5},{"d":"2025-07-10","k":"e200","v":258.7},{"d":"2025-07-15","k":"e200","v":259.3},{"d":"2025-07-23","k":"e200","v":260.7},{"d":"2025-08-01","k":"e200","v":260.6},{"d":"2025-08-15","k":"e200","v":259},{"d":"2025-08-25","k":"e200","v":257.5},{"d":"2025-09-05","k":"e200","v":256.7},{"d":"2025-09-16","k":"e200","v":256.7},{"d":"2025-09-22","k":"e200","v":257.5},{"d":"2025-09-26","k":"e200","v":258.1},{"d":"2025-10-03","k":"e200","v":259.2},{"d":"2025-10-07","k":"e200","v":259.5},{"d":"2025-10-10","k":"e200","v":260.6},{"d":"2025-10-17","k":"e200","v":261.5},{"d":"2025-10-21","k":"e200","v":262},{"d":"2025-10-24","k":"e200","v":263.1},{"d":"2025-10-27","k":"e200","v":263.5},{"d":"2025-10-31","k":"e200","v":265.5},{"d":"2025-11-04","k":"e200","v":265.8},{"d":"2025-11-07","k":"e200","v":267.2},{"d":"2025-11-10","k":"e200","v":267.7},{"d":"2025-11-14","k":"e200","v":269.1},{"d":"2025-11-20","k":"e200","v":269.9},{"d":"2025-11-24","k":"e200","v":270.4},{"d":"2025-11-28","k":"e200","v":271.5},{"d":"2025-12-02","k":"e200","v":272.1},{"d":"2025-12-05","k":"e200","v":272.6},{"d":"2025-12-10","k":"e200","v":274.5},{"d":"2025-12-19","k":"e200","v":276.6},{"d":"2025-12-31","k":"e200","v":278.9},{"d":"2026-01-14","k":"e200","v":280.6},{"d":"2026-01-28","k":"e200","v":282},{"d":"2026-02-10","k":"e200","v":283.4},{"d":"2026-02-20","k":"e200","v":281.6},{"d":"2026-02-27","k":"e200","v":279.3},{"d":"2026-03-13","k":"e200","v":276.7},{"d":"2026-03-27","k":"e200","v":273.7},{"d":"2026-04-09","k":"e200","v":271.6},{"d":"2026-04-22","k":"e200","v":269.5},{"d":"2026-05-08","k":"e200","v":264.7},{"d":"2026-05-19","k":"e200","v":261.7},{"d":"2026-05-29","k":"e200","v":261.9},{"d":"2026-06-05","k":"e200","v":264},{"d":"2026-06-12","k":"e200","v":264.5},{"d":"2026-06-18","k":"e200","v":264.4},{"d":"2026-06-26","k":"e200","v":264.3},{"d":"2026-07-02","k":"e200","v":265.1},{"d":"2026-07-10","k":"e200","v":266.7},{"d":"2026-07-13","k":"e200","v":266.9},{"d":"2026-07-15","k":"e200","v":265.9},
{"d":"2025-06-02","k":"bu","v":270.7},{"d":"2025-06-06","k":"bu","v":271.7},{"d":"2025-06-09","k":"bu","v":272},{"d":"2025-06-12","k":"bu","v":280.5},{"d":"2025-06-16","k":"bu","v":283.7},{"d":"2025-06-18","k":"bu","v":287.3},{"d":"2025-06-23","k":"bu","v":291.3},{"d":"2025-06-25","k":"bu","v":296.2},{"d":"2025-06-27","k":"bu","v":298.3},{"d":"2025-07-01","k":"bu","v":299.8},{"d":"2025-07-03","k":"bu","v":299.6},{"d":"2025-07-07","k":"bu","v":299.4},{"d":"2025-07-10","k":"bu","v":298},{"d":"2025-07-14","k":"bu","v":296.7},{"d":"2025-07-16","k":"bu","v":296.5},{"d":"2025-07-23","k":"bu","v":296.1},{"d":"2025-07-24","k":"bu","v":301.8},{"d":"2025-07-25","k":"bu","v":302.5},{"d":"2025-07-29","k":"bu","v":302.9},{"d":"2025-07-30","k":"bu","v":302.1},{"d":"2025-08-01","k":"bu","v":302.9},{"d":"2025-08-05","k":"bu","v":301.4},{"d":"2025-08-07","k":"bu","v":296.3},{"d":"2025-08-11","k":"bu","v":295},{"d":"2025-08-15","k":"bu","v":284.4},{"d":"2025-08-18","k":"bu","v":280.3},{"d":"2025-08-20","k":"bu","v":267.1},{"d":"2025-08-22","k":"bu","v":263.9},{"d":"2025-08-25","k":"bu","v":260.7},{"d":"2025-08-27","k":"bu","v":254.7},{"d":"2025-08-29","k":"bu","v":251.1},{"d":"2025-09-03","k":"bu","v":249.7},{"d":"2025-09-05","k":"bu","v":248.3},{"d":"2025-09-08","k":"bu","v":251.5},{"d":"2025-09-11","k":"bu","v":258.8},{"d":"2025-09-15","k":"bu","v":259.7},{"d":"2025-09-18","k":"bu","v":264.8},{"d":"2025-09-22","k":"bu","v":273.5},{"d":"2025-09-25","k":"bu","v":279.4},{"d":"2025-09-26","k":"bu","v":284.3},{"d":"2025-09-29","k":"bu","v":286.3},{"d":"2025-10-03","k":"bu","v":293.4},{"d":"2025-10-06","k":"bu","v":295.6},{"d":"2025-10-09","k":"bu","v":301.4},{"d":"2025-10-10","k":"bu","v":301},{"d":"2025-10-13","k":"bu","v":299.2},{"d":"2025-10-17","k":"bu","v":295.1},{"d":"2025-10-21","k":"bu","v":294.5},{"d":"2025-10-22","k":"bu","v":293.4},{"d":"2025-10-23","k":"bu","v":294},{"d":"2025-10-24","k":"bu","v":300.5},{"d":"2025-10-27","k":"bu","v":310.9},{"d":"2025-10-31","k":"bu","v":317.5},{"d":"2025-11-04","k":"bu","v":319.7},{"d":"2025-11-06","k":"bu","v":323.3},{"d":"2025-11-10","k":"bu","v":325.1},{"d":"2025-11-12","k":"bu","v":326.6},{"d":"2025-11-14","k":"bu","v":324.4},{"d":"2025-11-17","k":"bu","v":323.3},{"d":"2025-11-19","k":"bu","v":321.9},{"d":"2025-11-24","k":"bu","v":320.2},{"d":"2025-11-28","k":"bu","v":319.3},{"d":"2025-12-05","k":"bu","v":317.5},{"d":"2025-12-10","k":"bu","v":317.8},{"d":"2025-12-15","k":"bu","v":316},{"d":"2025-12-19","k":"bu","v":314.5},{"d":"2025-12-24","k":"bu","v":314},{"d":"2025-12-31","k":"bu","v":314},{"d":"2026-01-05","k":"bu","v":316},{"d":"2026-01-09","k":"bu","v":314.4},{"d":"2026-01-14","k":"bu","v":314.5},{"d":"2026-01-20","k":"bu","v":314.6},{"d":"2026-01-23","k":"bu","v":314.7},{"d":"2026-01-28","k":"bu","v":313.8},{"d":"2026-01-30","k":"bu","v":316.5},{"d":"2026-02-03","k":"bu","v":317.5},{"d":"2026-02-06","k":"bu","v":315},{"d":"2026-02-10","k":"bu","v":314.5},{"d":"2026-02-11","k":"bu","v":318.5},{"d":"2026-02-12","k":"bu","v":320.9},{"d":"2026-02-17","k":"bu","v":321.5},{"d":"2026-02-20","k":"bu","v":321},{"d":"2026-02-23","k":"bu","v":326},{"d":"2026-02-25","k":"bu","v":328},{"d":"2026-02-27","k":"bu","v":321},{"d":"2026-03-03","k":"bu","v":314},{"d":"2026-03-05","k":"bu","v":306},{"d":"2026-03-09","k":"bu","v":292.4},{"d":"2026-03-11","k":"bu","v":281},{"d":"2026-03-13","k":"bu","v":269.5},{"d":"2026-03-17","k":"bu","v":264.9},{"d":"2026-03-19","k":"bu","v":262.5},{"d":"2026-03-24","k":"bu","v":261.3},{"d":"2026-03-30","k":"bu","v":260},{"d":"2026-04-02","k":"bu","v":258},{"d":"2026-04-09","k":"bu","v":256.5},{"d":"2026-04-15","k":"bu","v":258},{"d":"2026-04-21","k":"bu","v":258.5},{"d":"2026-04-24","k":"bu","v":259.5},{"d":"2026-04-28","k":"bu","v":258.5},{"d":"2026-05-01","k":"bu","v":257.5},{"d":"2026-05-06","k":"bu","v":257.3},{"d":"2026-05-12","k":"bu","v":255},{"d":"2026-05-18","k":"bu","v":247},{"d":"2026-05-20","k":"bu","v":245},{"d":"2026-05-21","k":"bu","v":252},{"d":"2026-05-22","k":"bu","v":260},{"d":"2026-05-26","k":"bu","v":273},{"d":"2026-05-27","k":"bu","v":282},{"d":"2026-05-29","k":"bu","v":305},{"d":"2026-06-01","k":"bu","v":318},{"d":"2026-06-02","k":"bu","v":324},{"d":"2026-06-04","k":"bu","v":330},{"d":"2026-06-08","k":"bu","v":333},{"d":"2026-06-10","k":"bu","v":331},{"d":"2026-06-12","k":"bu","v":325},{"d":"2026-06-17","k":"bu","v":322.5},{"d":"2026-06-22","k":"bu","v":320.9},{"d":"2026-06-25","k":"bu","v":320.5},{"d":"2026-06-26","k":"bu","v":321.4},{"d":"2026-06-29","k":"bu","v":319.6},{"d":"2026-06-30","k":"bu","v":312.4},{"d":"2026-07-01","k":"bu","v":301.7},{"d":"2026-07-02","k":"bu","v":298.1},{"d":"2026-07-06","k":"bu","v":297.5},{"d":"2026-07-07","k":"bu","v":302.9},{"d":"2026-07-08","k":"bu","v":305.9},{"d":"2026-07-09","k":"bu","v":307.7},{"d":"2026-07-10","k":"bu","v":308.9},{"d":"2026-07-13","k":"bu","v":310.3},{"d":"2026-07-14","k":"bu","v":315},{"d":"2026-07-15","k":"bu","v":322},
{"d":"2025-06-02","k":"bl","v":247.4},{"d":"2025-06-04","k":"bl","v":249.6},{"d":"2025-06-06","k":"bl","v":251.4},{"d":"2025-06-09","k":"bl","v":253.8},{"d":"2025-06-12","k":"bl","v":253.2},{"d":"2025-06-17","k":"bl","v":251.4},{"d":"2025-06-18","k":"bl","v":251.1},{"d":"2025-06-23","k":"bl","v":252.3},{"d":"2025-06-25","k":"bl","v":253.6},{"d":"2025-06-27","k":"bl","v":257.7},{"d":"2025-06-30","k":"bl","v":259.5},{"d":"2025-07-03","k":"bl","v":267.5},{"d":"2025-07-07","k":"bl","v":270.2},{"d":"2025-07-10","k":"bl","v":277.4},{"d":"2025-07-14","k":"bl","v":279.6},{"d":"2025-07-16","k":"bl","v":279.3},{"d":"2025-07-23","k":"bl","v":278.5},{"d":"2025-07-24","k":"bl","v":272},{"d":"2025-07-25","k":"bl","v":266.6},{"d":"2025-07-29","k":"bl","v":262},{"d":"2025-08-01","k":"bl","v":252},{"d":"2025-08-05","k":"bl","v":246.5},{"d":"2025-08-08","k":"bl","v":237.3},{"d":"2025-08-11","k":"bl","v":233.2},{"d":"2025-08-14","k":"bl","v":225.4},{"d":"2025-08-18","k":"bl","v":226.1},{"d":"2025-08-20","k":"bl","v":230},{"d":"2025-08-25","k":"bl","v":230},{"d":"2025-08-28","k":"bl","v":232.8},{"d":"2025-09-02","k":"bl","v":233.7},{"d":"2025-09-05","k":"bl","v":234.8},{"d":"2025-09-09","k":"bl","v":232.3},{"d":"2025-09-11","k":"bl","v":233.2},{"d":"2025-09-16","k":"bl","v":235},{"d":"2025-09-22","k":"bl","v":235.3},{"d":"2025-09-25","k":"bl","v":237.3},{"d":"2025-09-26","k":"bl","v":237.5},{"d":"2025-09-29","k":"bl","v":237.6},{"d":"2025-10-03","k":"bl","v":245.3},{"d":"2025-10-07","k":"bl","v":246.7},{"d":"2025-10-09","k":"bl","v":249.6},{"d":"2025-10-13","k":"bl","v":257.3},{"d":"2025-10-15","k":"bl","v":261.6},{"d":"2025-10-17","k":"bl","v":267.9},{"d":"2025-10-21","k":"bl","v":269.9},{"d":"2025-10-22","k":"bl","v":272.5},{"d":"2025-10-23","k":"bl","v":271},{"d":"2025-10-24","k":"bl","v":270.4},{"d":"2025-10-27","k":"bl","v":268.2},{"d":"2025-10-30","k":"bl","v":265.7},{"d":"2025-11-03","k":"bl","v":265.7},{"d":"2025-11-06","k":"bl","v":266.6},{"d":"2025-11-10","k":"bl","v":268.8},{"d":"2025-11-12","k":"bl","v":275.4},{"d":"2025-11-14","k":"bl","v":283.6},{"d":"2025-11-17","k":"bl","v":286.1},{"d":"2025-11-19","k":"bl","v":288.7},{"d":"2025-11-21","k":"bl","v":289},{"d":"2025-12-02","k":"bl","v":289},{"d":"2025-12-10","k":"bl","v":289.6},{"d":"2025-12-15","k":"bl","v":291},{"d":"2025-12-19","k":"bl","v":294.5},{"d":"2025-12-24","k":"bl","v":297},{"d":"2025-12-31","k":"bl","v":294.5},{"d":"2026-01-05","k":"bl","v":290},{"d":"2026-01-09","k":"bl","v":292.4},{"d":"2026-01-14","k":"bl","v":292.5},{"d":"2026-01-20","k":"bl","v":288.5},{"d":"2026-01-23","k":"bl","v":286.7},{"d":"2026-01-28","k":"bl","v":287},{"d":"2026-01-30","k":"bl","v":287.3},{"d":"2026-02-03","k":"bl","v":286.5},{"d":"2026-02-06","k":"bl","v":282.7},{"d":"2026-02-10","k":"bl","v":283},{"d":"2026-02-11","k":"bl","v":276},{"d":"2026-02-12","k":"bl","v":269.5},{"d":"2026-02-13","k":"bl","v":265},{"d":"2026-02-17","k":"bl","v":258},{"d":"2026-02-19","k":"bl","v":250},{"d":"2026-02-20","k":"bl","v":247.5},{"d":"2026-02-23","k":"bl","v":234},{"d":"2026-02-24","k":"bl","v":228.3},{"d":"2026-02-25","k":"bl","v":222.5},{"d":"2026-02-26","k":"bl","v":219.2},{"d":"2026-02-27","k":"bl","v":217.5},{"d":"2026-03-02","k":"bl","v":216.5},{"d":"2026-03-04","k":"bl","v":218},{"d":"2026-03-06","k":"bl","v":221.5},{"d":"2026-03-10","k":"bl","v":226},{"d":"2026-03-13","k":"bl","v":231},{"d":"2026-03-17","k":"bl","v":236},{"d":"2026-03-19","k":"bl","v":236.5},{"d":"2026-03-24","k":"bl","v":235.5},{"d":"2026-03-27","k":"bl","v":235.3},{"d":"2026-03-30","k":"bl","v":235},{"d":"2026-04-02","k":"bl","v":235.5},{"d":"2026-04-09","k":"bl","v":235.3},{"d":"2026-04-13","k":"bl","v":231},{"d":"2026-04-17","k":"bl","v":232},{"d":"2026-04-22","k":"bl","v":233.3},{"d":"2026-04-24","k":"bl","v":226},{"d":"2026-04-28","k":"bl","v":222},{"d":"2026-05-01","k":"bl","v":219},{"d":"2026-05-08","k":"bl","v":215},{"d":"2026-05-12","k":"bl","v":212},{"d":"2026-05-18","k":"bl","v":211.7},{"d":"2026-05-20","k":"bl","v":210.5},{"d":"2026-05-22","k":"bl","v":205},{"d":"2026-05-26","k":"bl","v":198.6},{"d":"2026-05-28","k":"bl","v":191},{"d":"2026-05-29","k":"bl","v":186},{"d":"2026-06-01","k":"bl","v":180},{"d":"2026-06-03","k":"bl","v":178.5},{"d":"2026-06-05","k":"bl","v":179},{"d":"2026-06-08","k":"bl","v":183},{"d":"2026-06-10","k":"bl","v":189},{"d":"2026-06-12","k":"bl","v":198},{"d":"2026-06-16","k":"bl","v":214.6},{"d":"2026-06-18","k":"bl","v":228},{"d":"2026-06-22","k":"bl","v":233},{"d":"2026-06-24","k":"bl","v":235.5},{"d":"2026-06-26","k":"bl","v":236.4},{"d":"2026-06-29","k":"bl","v":236.7},{"d":"2026-06-30","k":"bl","v":239.4},{"d":"2026-07-01","k":"bl","v":246},{"d":"2026-07-02","k":"bl","v":248},{"d":"2026-07-06","k":"bl","v":248.4},{"d":"2026-07-07","k":"bl","v":246},{"d":"2026-07-08","k":"bl","v":244.5},{"d":"2026-07-09","k":"bl","v":244.8},{"d":"2026-07-13","k":"bl","v":245.2},{"d":"2026-07-14","k":"bl","v":237},{"d":"2026-07-15","k":"bl","v":228.6},
{"d":"2025-06-02","k":"bm","v":260.4},{"d":"2025-06-06","k":"bm","v":261.7},{"d":"2025-06-09","k":"bm","v":263},{"d":"2025-06-12","k":"bm","v":266.6},{"d":"2025-06-16","k":"bm","v":267.8},{"d":"2025-06-18","k":"bm","v":269.3},{"d":"2025-06-23","k":"bm","v":271.7},{"d":"2025-06-27","k":"bm","v":278.3},{"d":"2025-06-30","k":"bm","v":280.1},{"d":"2025-07-03","k":"bm","v":282.8},{"d":"2025-07-07","k":"bm","v":285},{"d":"2025-07-10","k":"bm","v":287.7},{"d":"2025-07-14","k":"bm","v":288},{"d":"2025-07-21","k":"bm","v":288.4},{"d":"2025-07-23","k":"bm","v":288.1},{"d":"2025-07-25","k":"bm","v":285},{"d":"2025-07-28","k":"bm","v":282.6},{"d":"2025-08-01","k":"bm","v":277},{"d":"2025-08-05","k":"bm","v":273.7},{"d":"2025-08-07","k":"bm","v":270.3},{"d":"2025-08-11","k":"bm","v":264.8},{"d":"2025-08-15","k":"bm","v":254},{"d":"2025-08-18","k":"bm","v":252.7},{"d":"2025-08-20","k":"bm","v":248.3},{"d":"2025-08-25","k":"bm","v":244.6},{"d":"2025-08-28","k":"bm","v":243.7},{"d":"2025-09-02","k":"bm","v":242.4},{"d":"2025-09-05","k":"bm","v":241.9},{"d":"2025-09-08","k":"bm","v":242.4},{"d":"2025-09-11","k":"bm","v":246},{"d":"2025-09-15","k":"bm","v":247.4},{"d":"2025-09-18","k":"bm","v":250.6},{"d":"2025-09-22","k":"bm","v":252.4},{"d":"2025-09-26","k":"bm","v":260},{"d":"2025-09-29","k":"bm","v":262},{"d":"2025-10-03","k":"bm","v":269.3},{"d":"2025-10-06","k":"bm","v":271.2},{"d":"2025-10-10","k":"bm","v":277.5},{"d":"2025-10-14","k":"bm","v":279.7},{"d":"2025-10-17","k":"bm","v":281.4},{"d":"2025-10-21","k":"bm","v":282.5},{"d":"2025-10-24","k":"bm","v":285.2},{"d":"2025-10-27","k":"bm","v":286.3},{"d":"2025-10-31","k":"bm","v":290.7},{"d":"2025-11-04","k":"bm","v":292.9},{"d":"2025-11-07","k":"bm","v":296.4},{"d":"2025-11-10","k":"bm","v":299.4},{"d":"2025-11-12","k":"bm","v":301.6},{"d":"2025-11-14","k":"bm","v":303.3},{"d":"2025-11-17","k":"bm","v":304.4},{"d":"2025-11-20","k":"bm","v":305.1},{"d":"2025-11-24","k":"bm","v":304.4},{"d":"2025-11-28","k":"bm","v":304},{"d":"2025-12-02","k":"bm","v":303.8},{"d":"2025-12-05","k":"bm","v":303.6},{"d":"2025-12-10","k":"bm","v":303.6},{"d":"2025-12-15","k":"bm","v":303.5},{"d":"2025-12-19","k":"bm","v":304.5},{"d":"2025-12-24","k":"bm","v":305.5},{"d":"2025-12-31","k":"bm","v":304.3},{"d":"2026-01-05","k":"bm","v":303},{"d":"2026-01-09","k":"bm","v":303.4},{"d":"2026-01-14","k":"bm","v":303.5},{"d":"2026-01-20","k":"bm","v":301.6},{"d":"2026-01-23","k":"bm","v":300.7},{"d":"2026-01-28","k":"bm","v":300.4},{"d":"2026-02-02","k":"bm","v":301.2},{"d":"2026-02-06","k":"bm","v":298.7},{"d":"2026-02-10","k":"bm","v":298.8},{"d":"2026-02-11","k":"bm","v":297.3},{"d":"2026-02-12","k":"bm","v":295.2},{"d":"2026-02-13","k":"bm","v":292.5},{"d":"2026-02-17","k":"bm","v":290},{"d":"2026-02-20","k":"bm","v":284.5},{"d":"2026-02-23","k":"bm","v":280},{"d":"2026-02-25","k":"bm","v":274},{"d":"2026-02-27","k":"bm","v":269},{"d":"2026-03-02","k":"bm","v":265.5},{"d":"2026-03-04","k":"bm","v":262},{"d":"2026-03-06","k":"bm","v":259},{"d":"2026-03-10","k":"bm","v":254},{"d":"2026-03-13","k":"bm","v":250},{"d":"2026-03-17","k":"bm","v":250.5},{"d":"2026-03-20","k":"bm","v":250},{"d":"2026-03-24","k":"bm","v":249},{"d":"2026-03-27","k":"bm","v":248.3},{"d":"2026-03-30","k":"bm","v":247.5},{"d":"2026-04-02","k":"bm","v":246.5},{"d":"2026-04-09","k":"bm","v":245.9},{"d":"2026-04-15","k":"bm","v":244.5},{"d":"2026-04-22","k":"bm","v":245.3},{"d":"2026-04-24","k":"bm","v":243.5},{"d":"2026-04-28","k":"bm","v":241},{"d":"2026-05-01","k":"bm","v":239},{"d":"2026-05-08","k":"bm","v":236.1},{"d":"2026-05-12","k":"bm","v":233},{"d":"2026-05-19","k":"bm","v":226.7},{"d":"2026-05-20","k":"bm","v":227.2},{"d":"2026-05-21","k":"bm","v":228.5},{"d":"2026-05-22","k":"bm","v":230.5},{"d":"2026-05-26","k":"bm","v":233},{"d":"2026-05-28","k":"bm","v":237},{"d":"2026-05-29","k":"bm","v":240.5},{"d":"2026-06-01","k":"bm","v":242.5},{"d":"2026-06-03","k":"bm","v":250.9},{"d":"2026-06-05","k":"bm","v":255},{"d":"2026-06-08","k":"bm","v":260.2},{"d":"2026-06-10","k":"bm","v":264},{"d":"2026-06-12","k":"bm","v":268},{"d":"2026-06-17","k":"bm","v":277.2},{"d":"2026-06-22","k":"bm","v":277.3},{"d":"2026-06-26","k":"bm","v":277.5},{"d":"2026-06-29","k":"bm","v":277.2},{"d":"2026-07-01","k":"bm","v":273.5},{"d":"2026-07-02","k":"bm","v":272.9},{"d":"2026-07-06","k":"bm","v":273.2},{"d":"2026-07-09","k":"bm","v":276.8},{"d":"2026-07-13","k":"bm","v":277.5},{"d":"2026-07-14","k":"bm","v":276},{"d":"2026-07-15","k":"bm","v":274}
]
},
"resolve": {"scale": {"y": "independent"}, "axis": {"x": "independent", "y": "independent"}},
"encoding": {"x": {"field": "d", "type": "temporal", "scale": {"type": "utc", "domain": [{"year":2025,"month":5,"date":4,"hours":12,"utc":true},{"year":2026,"month":7,"date":15,"hours":15,"utc":true}]}, "axis": null}},
"layer": [
{"data": {"name": "c"}, "transform": [{"filter": "datum.c >= datum.o"}],
 "mark": {"type": "bar", "width": 4.2, "color": "#c8f0d7"},
 "encoding": {
  "x": {"field": "d", "type": "temporal", "scale": {"type": "utc", "domain": [{"year":2025,"month":5,"date":4,"hours":12,"utc":true},{"year":2026,"month":7,"date":15,"hours":15,"utc":true}]},
        "axis": {"values": [{"year":2025,"month":6,"date":1,"utc":true},{"year":2025,"month":7,"date":1,"utc":true},{"year":2025,"month":8,"date":1,"utc":true},{"year":2025,"month":9,"date":1,"utc":true},{"year":2025,"month":10,"date":1,"utc":true},{"year":2025,"month":11,"date":1,"utc":true},{"year":2025,"month":12,"date":1,"utc":true},{"year":2026,"month":1,"date":1,"utc":true},{"year":2026,"month":2,"date":1,"utc":true},{"year":2026,"month":3,"date":1,"utc":true},{"year":2026,"month":4,"date":1,"utc":true},{"year":2026,"month":5,"date":1,"utc":true},{"year":2026,"month":6,"date":1,"utc":true},{"year":2026,"month":7,"date":1,"utc":true}],
                 "labelExpr": "utcFormat(datum.value, '%b %Y')", "grid": false, "ticks": false, "tickSize": 0, "domain": false, "labelPadding": 15, "labelFontSize": 16, "labelColor": "#666", "labelFont": "Liberation Sans", "title": null, "labelOverlap": false}},
  "y": {"field": "v", "type": "quantitative", "scale": {"domain": [0, 1285], "nice": false}, "axis": {"orient": "left", "labels": false, "ticks": false, "grid": false, "domain": true, "domainColor": "#e2e2e2", "title": null}}
 }},
{"data": {"name": "c"}, "transform": [{"filter": "datum.c < datum.o"}],
 "mark": {"type": "bar", "width": 4.2, "color": "#f9cbc6"},
 "encoding": {"y": {"field": "v", "type": "quantitative", "scale": {"domain": [0, 1285], "nice": false}, "axis": null}}},
{"data": {"name": "ln"}, "transform": [{"filter": "datum.k == 'bl'"}],
 "mark": {"type": "line", "color": "#c8c8c8", "strokeWidth": 1.5},
 "encoding": {
  "x": {"field": "d", "type": "temporal", "scale": {"type": "utc", "domain": [{"year":2025,"month":5,"date":4,"hours":12,"utc":true},{"year":2026,"month":7,"date":15,"hours":15,"utc":true}]},
        "axis": {"values": [{"year":2025,"month":5,"date":18,"hours":12,"utc":true},{"year":2025,"month":6,"date":16,"hours":12,"utc":true},{"year":2025,"month":7,"date":17,"utc":true},{"year":2025,"month":8,"date":17,"utc":true},{"year":2025,"month":9,"date":16,"hours":12,"utc":true},{"year":2025,"month":10,"date":17,"utc":true},{"year":2025,"month":11,"date":16,"hours":12,"utc":true},{"year":2025,"month":12,"date":17,"utc":true},{"year":2026,"month":1,"date":17,"utc":true},{"year":2026,"month":2,"date":15,"hours":12,"utc":true},{"year":2026,"month":3,"date":17,"utc":true},{"year":2026,"month":4,"date":16,"hours":12,"utc":true},{"year":2026,"month":5,"date":17,"utc":true},{"year":2026,"month":6,"date":16,"hours":12,"utc":true}],
                 "grid": true, "gridColor": "#e6e6e6", "gridWidth": 1, "labels": false, "ticks": true, "tickSize": 10, "tickColor": "#e0e0e0", "domain": false, "title": null}},
  "y": {"field": "v", "type": "quantitative", "scale": {"domain": [160, 340], "nice": false, "zero": false}, "axis": null}}},
{"data": {"name": "ln"}, "transform": [{"filter": "datum.k == 'bu'"}],
 "mark": {"type": "line", "color": "#c8c8c8", "strokeWidth": 1.5},
 "encoding": {"y": {"field": "v", "type": "quantitative", "scale": {"domain": [160, 340], "nice": false, "zero": false}, "axis": null}}},
{"data": {"name": "ln"}, "transform": [{"filter": "datum.k == 'bm'"}],
 "mark": {"type": "line", "color": "#9a9a9a", "strokeWidth": 1.5, "strokeDash": [4, 4]},
 "encoding": {"y": {"field": "v", "type": "quantitative", "scale": {"domain": [160, 340], "nice": false, "zero": false}, "axis": null}}},
{"data": {"name": "ln"}, "transform": [{"filter": "datum.k == 'e200'"}],
 "mark": {"type": "line", "color": "#111111", "strokeWidth": 2.5, "strokeDash": [8, 5]},
 "encoding": {"y": {"field": "v", "type": "quantitative", "scale": {"domain": [160, 340], "nice": false, "zero": false}, "axis": null}}},
{"data": {"name": "ln"}, "transform": [{"filter": "datum.k == 'e100'"}],
 "mark": {"type": "line", "color": "#8b4513", "strokeWidth": 2},
 "encoding": {"y": {"field": "v", "type": "quantitative", "scale": {"domain": [160, 340], "nice": false, "zero": false}, "axis": null}}},
{"data": {"name": "ln"}, "transform": [{"filter": "datum.k == 'e50'"}],
 "mark": {"type": "line", "color": "#8b5cf6", "strokeWidth": 3},
 "encoding": {"y": {"field": "v", "type": "quantitative", "scale": {"domain": [160, 340], "nice": false, "zero": false}, "axis": null}}},
{"data": {"name": "ln"}, "transform": [{"filter": "datum.k == 'e20'"}],
 "mark": {"type": "line", "color": "#0a84ff", "strokeWidth": 3},
 "encoding": {"y": {"field": "v", "type": "quantitative", "scale": {"domain": [160, 340], "nice": false, "zero": false}, "axis": null}}},
{"data": {"name": "c"},
 "mark": {"type": "rule", "color": "#555555", "strokeWidth": 1.4},
 "encoding": {
  "y": {"field": "l", "type": "quantitative", "scale": {"domain": [160, 340], "nice": false, "zero": false},
        "axis": {"orient": "right", "values": [160,180,200,220,240,260,280,300,320,340], "grid": true, "gridColor": "#e3e3e3", "gridDash": [3, 3], "tickSize": 11, "tickColor": "#dddddd", "domain": true, "domainColor": "#dddddd", "labelFontSize": 16, "labelColor": "#666", "labelFont": "Liberation Sans", "labelPadding": 3, "title": null}},
  "y2": {"field": "h"}}},
{"data": {"name": "c"}, "transform": [{"filter": "datum.c >= datum.o"}],
 "mark": {"type": "bar", "width": 5, "fill": "#4f9468", "stroke": "#555555", "strokeWidth": 1},
 "encoding": {"y": {"field": "o", "type": "quantitative", "scale": {"domain": [160, 340], "nice": false, "zero": false}, "axis": null}, "y2": {"field": "c"}}},
{"data": {"name": "c"}, "transform": [{"filter": "datum.c < datum.o"}],
 "mark": {"type": "bar", "width": 5, "fill": "#d0533d", "stroke": "#555555", "strokeWidth": 1},
 "encoding": {"y": {"field": "o", "type": "quantitative", "scale": {"domain": [160, 340], "nice": false, "zero": false}, "axis": null}, "y2": {"field": "c"}}},
{"data": {"values": [{"s": "IBM/USDT"}, {"s": "EMA20"}, {"s": "EMA50"}, {"s": "EMA100"}, {"s": "EMA200"}, {"s": "BB Mid (20)"}, {"s": "BB Upper"}, {"s": "BB Lower"}, {"s": "Volume"}]},
 "mark": {"type": "square", "opacity": 0},
 "encoding": {
  "fill": {"field": "s", "type": "nominal", "scale": {"domain": ["IBM/USDT","EMA20","EMA50","EMA100","EMA200","BB Mid (20)","BB Upper","BB Lower","Volume"], "range": ["#666666","#e4e4e4","#e4e4e4","#e4e4e4","#e4e4e4","#e4e4e4","#e4e4e4","#e4e4e4","#c8f0d7"]},
           "legend": {"orient": "none", "legendX": 783, "legendY": -31, "direction": "horizontal", "columns": 9, "title": null, "symbolType": "M-1.4,-1H1.4V1H-1.4Z", "symbolSize": 324, "symbolStrokeWidth": 2.5, "symbolOpacity": 1, "labelFontSize": 16, "labelColor": "#666", "labelFont": "Liberation Sans", "labelOffset": 11.5, "columnPadding": 5, "padding": 0}},
  "stroke": {"field": "s", "type": "nominal", "scale": {"domain": ["IBM/USDT","EMA20","EMA50","EMA100","EMA200","BB Mid (20)","BB Upper","BB Lower","Volume"], "range": ["#555555","#0a84ff","#8b5cf6","#8b4513","#111111","#aaaaaa","#cccccc","#cccccc","#c8f0d7"]},
           "legend": {"orient": "none", "legendX": 783, "legendY": -31, "direction": "horizontal", "columns": 9, "title": null, "symbolType": "M-1.4,-1H1.4V1H-1.4Z", "symbolSize": 324, "symbolStrokeWidth": 2.5, "symbolOpacity": 1, "labelFontSize": 16, "labelColor": "#666", "labelFont": "Liberation Sans", "labelOffset": 11.5, "columnPadding": 5, "padding": 0}},
  "strokeDash": {"field": "s", "type": "nominal", "scale": {"domain": ["IBM/USDT","EMA20","EMA50","EMA100","EMA200","BB Mid (20)","BB Upper","BB Lower","Volume"], "range": [[1,0],[1,0],[1,0],[1,0],[5,3],[3,3],[1,0],[1,0],[1,0]]},
           "legend": {"orient": "none", "legendX": 783, "legendY": -31, "direction": "horizontal", "columns": 9, "title": null, "symbolType": "M-1.4,-1H1.4V1H-1.4Z", "symbolSize": 324, "symbolStrokeWidth": 2.5, "symbolOpacity": 1, "labelFontSize": 16, "labelColor": "#666", "labelFont": "Liberation Sans", "labelOffset": 11.5, "columnPadding": 5, "padding": 0}}
 }}
]
}
